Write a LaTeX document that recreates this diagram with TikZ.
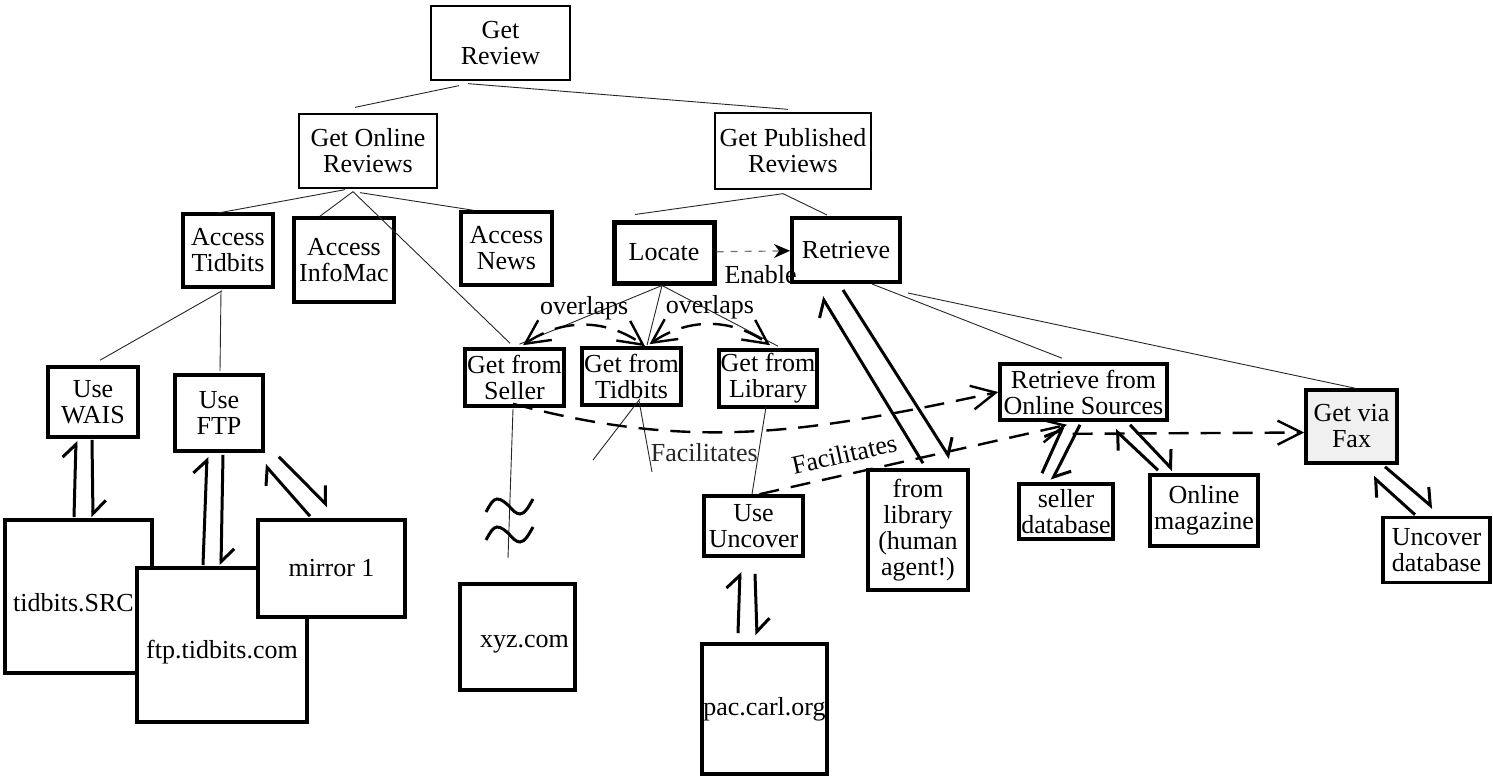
\documentclass[tikz,border=0pt]{standalone}
\usepackage{fontspec}
\setmainfont{Liberation Serif}
\usetikzlibrary{arrows.meta, positioning, calc}

\begin{document}
\begin{tikzpicture}[x=0.5pt, y=-0.5pt,
  every node/.style={font=\fontsize{13}{13}\selectfont, align=center, inner sep=0pt},
  sz/.style 2 args={minimum width=#1*0.5pt, minimum height=#2*0.5pt},
  goal/.style={draw, rectangle, line width=0.65pt},
  task/.style={draw, rectangle, line width=1.8pt, fill=white},
  tree/.style={line width=0.45pt, black!85},
  harp/.style={line width=1.5pt, -{Straight Barb[harpoon, length=6.5pt, width=13pt]}},
  dlink/.style={line width=1.2pt, dash pattern=on 10pt off 6pt, -{Straight Barb[length=12pt, width=12pt]}},
  overlap/.style={dlink, {Straight Barb[length=12pt, width=12pt]}-{Straight Barb[length=12pt, width=12pt]}},
  lbl/.style={inner sep=2pt}]
\useasboundingbox (0,0) rectangle (1493,781);

% goals
\node (review) [goal, sz={139}{74}] at (500.5,43) {Get\\Review};
\node (online) [goal, sz={138}{74}] at (368,151) {Get Online\\Reviews};
\node (published) [goal, sz={156}{76}] at (793,151) {Get Published\\Reviews};

% online branch
\node (acctid) [task, sz={90}{73}] at (228,250.5) {Access\\Tidbits};
\node (accinfo) [task, sz={100}{84}] at (344,260) {Access\\InfoMac};
\node (accnews) [task, sz={91}{73}] at (506.5,248.5) {Access\\News};
\node (wais) [task, sz={90}{70}] at (93,402) {Use\\WAIS};
\node (ftp) [task, sz={88}{76}] at (219,413) {Use\\FTP};
\node (src) [task, sz={147}{153}] at (78.5,596.5) {\rule{0pt}{15pt}tidbits.SRC\hspace*{5pt}};
\node (ftpsite) [task, sz={170}{154}] at (222,645) {\rule{0pt}{16pt}ftp.tidbits.com};
\node (mirror) [task, sz={147}{97}] at (331.5,568.5) {mirror 1};

% published branch
\node (locate) [task, line width=2.5pt, sz={100}{61}] at (664,252.5) {Locate};
\node (retrieve) [task, line width=2pt, sz={108}{64}] at (846,250) {Retrieve};
\node (seller) [task, sz={99}{57}] at (514.5,377.5) {Get from\\Seller};
\node (gtidbits) [task, sz={99}{57}] at (631.5,376.5) {Get from\\Tidbits};
\node (library) [task, sz={98}{57}] at (768,378.5) {Get from\\Library};
\node (xyz) [task, sz={115}{106}] at (517.5,637) {\rule{0pt}{13pt}\hspace*{7pt}xyz.com};
\node (uncover) [task, sz={99}{60}] at (753.5,526) {Use\\Uncover};
\node (pac) [task, sz={125}{130}] at (764.5,709) {pac.carl.org};
\node (fromlib) [task, sz={100}{120}] at (918,530) {from\\library\\(human\\agent!)};
\node (rfos) [task, sz={167}{56}] at (1083.5,392) {Retrieve from\\Online Sources};
\node (sellerdb) [task, sz={94}{55}] at (1066,511.5) {seller\\database};
\node (magazine) [task, sz={108}{71}] at (1204,510.5) {Online\\magazine};
\node (fax) [task, fill=black!6, sz={91}{73}] at (1351.5,426.5) {Get via\\Fax};
\node (uncdb) [task, sz={107}{65}] at (1436.5,550) {Uncover\\database};

\coordinate (cut) at (508,558);
\coordinate (fa) at (593,460);
\coordinate (fb) at (652,472);

% decomposition
\draw[tree] ($(review.south)+(-41.5,5)$) -- ($(online.north)+(-13,-6)$);
\draw[tree] ($(review.south)+(-32.5,3)$) -- ($(published.north)+(-5,-3)$);
\draw[tree] ($(online.south)+(-23,1)$) -- ($(acctid.north)+(-11,1)$);
\draw[tree] ($(online.south)+(-15,3)$) -- ($(accinfo.north)+(-24,0)$);
\draw[tree] ($(online.south)+(-15,3)$) -- ($(seller.north)+(-4.5,-4)$);
\draw[tree] ($(online.south)+(-8,4)$) -- ($(accnews.north)+(-33.5,0)$);
\draw[tree] ($(published.south)+(-10,4)$) -- ($(locate.north)+(-29,-5)$);
\draw[tree] ($(published.south)+(-10,4)$) -- ($(retrieve.north)+(-19,-1)$);
\draw[tree] ($(locate.south)+(-2,0)$) -- ($(seller.north)+(5,-3)$);
\draw[tree] ($(locate.south)+(-2,0)$) -- ($(gtidbits.north)+(15.5,-1)$);
\draw[tree] ($(locate.south)+(-2,0)$) -- ($(library.north)+(10,-2)$);
\draw[tree] ($(acctid.south)+(-6,2)$) -- ($(wais.north)+(7,-5)$);
\draw[tree] ($(acctid.south)+(-7,2)$) -- ($(ftp.north)+(1,-2)$);
\draw[tree] ($(gtidbits.south)+(8.5,-8)$) -- (fa);
\draw[tree] ($(gtidbits.south)+(7.5,-6)$) -- node[pos=0.73, right=1pt] {Facilitates} (fb);
\draw[tree] ($(seller.south)+(-1.5,1)$) -- (cut);
\draw[tree] ($(library.south)+(-2,-2)$) -- ($(uncover.north)+(-1.5,0)$);
\draw[tree] ($(retrieve.south)+(26,0)$) -- ($(rfos.north)+(-21.5,-4)$);
\draw[tree] ($(retrieve.south)+(62,9)$) -- ($(fax.north)+(3.5,0)$);

% cut in the seller line
\draw[line width=1.5pt] (486,512) sin (497,499) cos (509,506) sin (520,514) cos (533,499);
\draw[line width=1.5pt] (486,540) sin (497,527) cos (509,534) sin (520,542) cos (533,527);

% data flows
\draw[harp] ($(src.north)+(-4.5,-1)$) -- ($(wais.south)+(-17,2)$);
\draw[harp] ($(wais.south)+(-1,1)$) -- ($(src.north)+(14.5,-1)$);
\draw[harp] ($(ftpsite.north)+(-19,-1)$) -- ($(ftp.south)+(-12,4)$);
\draw[harp] ($(ftp.south)+(4,2)$) -- ($(ftpsite.north)+(-1,-1)$);
\draw[harp] ($(mirror.north)+(-21.5,-2)$) -- ($(ftp.south east)+(0,12)$);
\draw[harp] ($(ftp.south east)+(14,4)$) -- ($(mirror.north)+(-3.5,-12)$);
\draw[harp] ($(pac.north)+(-26.5,-9)$) -- ($(uncover.south)+(-13.5,14)$);
\draw[harp] ($(uncover.south)+(1.5,16)$) -- ($(pac.north)+(-7.5,-7)$);
\draw[harp] ($(fromlib.north)+(5,-5)$) -- ($(retrieve.south)+(-24,13)$);
\draw[harp] ($(retrieve.south)+(-3,6)$) -- ($(fromlib.north)+(32,-10)$);
\draw[harp] ($(sellerdb.north)+(-24,-9)$) -- ($(rfos.south)+(-20.5,5)$);
\draw[harp] ($(rfos.south)+(-3.5,3)$) -- ($(sellerdb.north)+(-14,-2)$);
\draw[harp] ($(magazine.north)+(-46,-3)$) -- ($(rfos.south)+(31.5,8)$);
\draw[harp] ($(rfos.south)+(46.5,3)$) -- ($(magazine.north)+(-31,-3)$);
\draw[harp] ($(uncdb.north)+(-21.5,-1)$) -- ($(fax.south)+(21.5,12)$);
\draw[harp] ($(fax.south)+(33.5,2)$) -- ($(uncdb.north)+(-3.5,-8)$);

% relations
\draw[line width=0.6pt, black!55, dash pattern=on 3.5pt off 3.5pt, -{Stealth[length=8pt, width=7pt, black]}]
  (locate) -- node[pos=0.6, below=5pt, black, lbl] {Enable} (retrieve);
\draw[overlap] ($(seller.north)+(8.5,-2)$) to[bend left=35] node[above, lbl] {overlaps} ($(gtidbits.north)+(13.5,0)$);
\draw[overlap] ($(gtidbits.north)+(18,-2)$) to[bend left=35] node[above, lbl] {overlaps} ($(library.north)+(2,-3)$);
\draw[dlink] ($(seller.south)+(-1.5,-4)$) to[out=-15, in=192] (rfos.west);
\draw[dlink] ($(uncover.north)+(6,0)$) -- node[pos=0.29, above=3pt, sloped, lbl] {Facilitates} ($(rfos.south)+(-16.5,3)$);
\draw[dlink] ($(rfos.south)+(-11,12)$) -- ([yshift=-3pt]fax.west);
\end{tikzpicture}
\end{document}
